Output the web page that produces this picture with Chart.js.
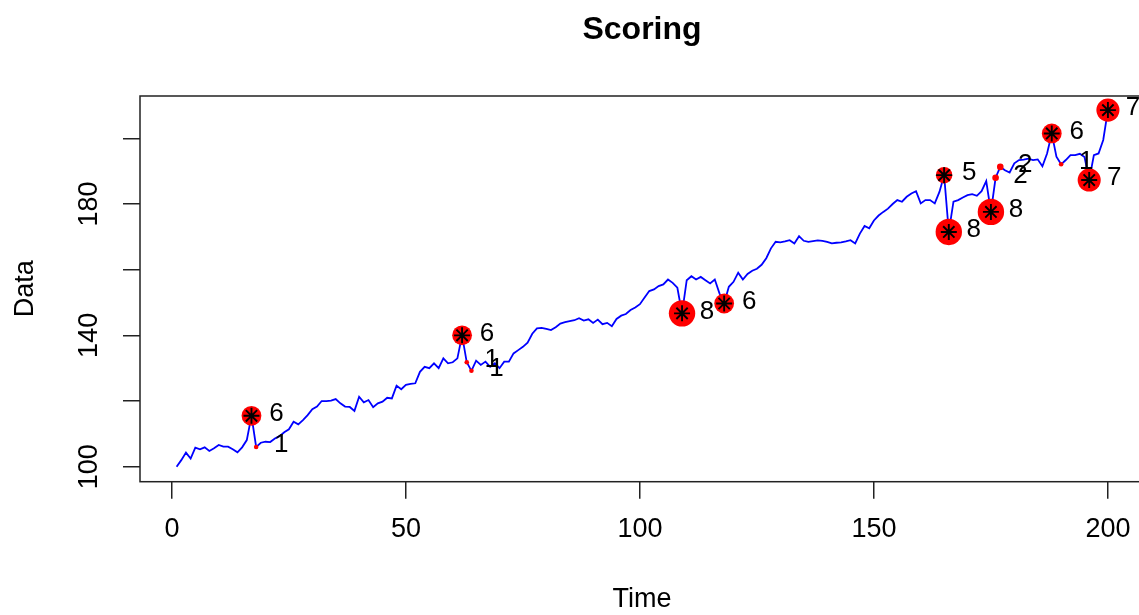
<!DOCTYPE html>
<html>
<head>
<meta charset="utf-8">
<title>Scoring</title>
<script src="https://cdn.jsdelivr.net/npm/chart.js@4/dist/chart.umd.min.js"></script>
<style>
  html, body { margin: 0; padding: 0; background: #fff; overflow: hidden; }
  #chart { display: block; }
</style>
</head>
<body>
<canvas id="chart" width="1139" height="615"></canvas>
<script>
// === Data ===
const values = [
  100.0, 102.0, 104.3, 102.5, 105.8, 105.3, 105.9, 104.8, 105.6, 106.6,
  106.1, 106.1, 105.3, 104.4, 105.9, 108.1, 115.5, 106.0, 107.3, 107.6,
  107.5, 108.6, 109.3, 110.5, 111.4, 113.7, 112.9, 114.2, 115.7, 117.5,
  118.3, 120.0, 120.0, 120.1, 120.6, 119.3, 118.3, 118.2, 117.0, 121.3,
  119.6, 120.3, 118.1, 119.3, 119.8, 121.0, 120.8, 124.7, 123.6, 124.9,
  125.2, 125.4, 128.9, 130.4, 130.0, 131.5, 130.0, 133.0, 131.5, 131.8,
  133.0, 140.0, 131.8, 129.2, 132.3, 131.0, 132.0, 130.4, 131.5, 130.0,
  132.0, 132.0, 134.5, 135.5, 136.5, 137.8, 140.5, 142.1, 142.3, 142.0,
  141.6, 142.5, 143.6, 144.0, 144.3, 144.6, 145.2, 144.5, 144.9, 143.8,
  144.8, 143.4, 143.8, 142.8, 145.0, 146.0, 146.5, 147.7, 148.5, 149.5,
  151.5, 153.5, 154.0, 155.0, 155.5, 157.0, 156.0, 154.5, 146.7, 156.8,
  158.0, 157.0, 157.8, 156.8, 155.8, 157.0, 152.8, 149.7, 154.8, 156.3,
  159.1, 157.0, 158.7, 159.7, 160.3, 161.5, 163.5, 166.5, 168.5, 168.3,
  168.6, 169.0, 168.0, 170.2, 168.8, 168.5, 168.7, 168.9, 168.8, 168.5,
  168.0, 168.2, 168.3, 168.6, 169.0, 168.0, 171.0, 173.3, 172.6, 175.0,
  176.5, 177.6, 178.6, 180.0, 181.2, 180.7, 182.2, 183.2, 183.9, 180.2,
  181.2, 181.2, 180.2, 183.7, 188.8, 171.5, 180.7, 181.2, 182.0, 182.7,
  183.0, 182.5, 183.9, 187.0, 177.6, 188.0, 191.3, 190.3, 189.6, 192.4,
  193.4, 193.5, 193.8, 193.4, 193.6, 191.5, 195.4, 201.5, 194.4, 192.1,
  193.4, 194.9, 194.9, 195.3, 194.3, 187.3, 194.9, 195.4, 199.5, 208.6
];
const anomalyTimes  = [17, 18, 62, 63, 64, 109, 118, 165, 166, 175, 176, 177, 188, 190, 196, 200];
const anomalyScores = [ 6,  1,  6,  1,  1,   8,   6,   5,   8,   8,   2,   2,   6,   1,   7,   7];
const xTicks = [0, 50, 100, 150, 200];
const yTicks = [100, 120, 140, 160, 180, 200];
const yTickLabels = ['100', '', '140', '', '180', ''];

// === Style ===
const FONT = "'Liberation Sans', Arial, sans-serif";
const INK = '#000000';
const STAR_MIN_SCORE = 5;
const X_MIN = -6.82;          // R pads the range by 4%
const X_PX_PER_UNIT = 4.68;   // keeps the right edge of the box just off the page

// === Build datasets ===
const linePoints = values.map((v, i) => ({ x: i + 1, y: v }));
const anomalyPoints = anomalyTimes.map(t => ({ x: t, y: values[t - 1] }));
const starPoints = anomalyPoints.filter((p, i) => anomalyScores[i] >= STAR_MIN_SCORE);
const anomalyRadius = anomalyScores.map(s => Math.max(2.3, s * 1.65));

// box round the plot region, like base R
const boxPlugin = {
  id: 'box',
  afterDraw(chart) {
    const { ctx, chartArea: a } = chart;
    ctx.save();
    ctx.strokeStyle = '#222';
    ctx.lineWidth = 1.5;
    ctx.strokeRect(a.left, a.top, a.right - a.left + 40, a.bottom - a.top);
    ctx.restore();
  }
};

// score labels to the right of each anomaly, main title, x title
const textPlugin = {
  id: 'scoreText',
  afterDatasetsDraw(chart) {
    const { ctx } = chart;
    const meta = chart.getDatasetMeta(1);
    ctx.save();
    ctx.fillStyle = INK;
    ctx.font = `26px ${FONT}`;
    ctx.textAlign = 'center';
    ctx.textBaseline = 'middle';
    meta.data.forEach((pt, i) => {
      ctx.fillText(String(anomalyScores[i]), pt.x + 25, pt.y - 2);
    });
    ctx.font = `27px ${FONT}`;
    ctx.fillText('Time', 642, 600);
    ctx.font = `bold 32px ${FONT}`;
    ctx.fillText('Scoring', 642, 30);
    ctx.restore();
  }
};

const axisGrid = { drawOnChartArea: false, drawTicks: true, tickLength: 17, color: '#222', lineWidth: 1.5 };

const chart = new Chart(document.getElementById('chart'), {
  type: 'line',
  data: {
    datasets: [
      { data: linePoints, borderColor: '#0000ff', borderWidth: 1.8, pointRadius: 0, tension: 0, fill: false, order: 3 },
      { type: 'scatter', data: anomalyPoints, backgroundColor: '#ff0000', borderWidth: 0,
        pointRadius: anomalyRadius, order: 2 },
      { type: 'scatter', data: starPoints, pointStyle: 'star', pointRadius: 8,
        borderColor: '#000000', backgroundColor: '#000000', borderWidth: 1.9, order: 1 }
    ]
  },
  options: {
    responsive: false,
    animation: false,
    events: [],
    layout: { padding: { top: 96, left: 0, right: 0, bottom: 0 } },
    plugins: { legend: { display: false }, tooltip: { enabled: false }, title: { display: false } },
    scales: {
      x: {
        type: 'linear', min: X_MIN, max: 206.6,
        afterBuildTicks: s => { s.ticks = xTicks.map(v => ({ value: v })); },
        // labels must not push the side margins around
        afterFit: s => { s.height = 615 - 481.7; s.paddingLeft = 0; s.paddingRight = 0; },
        ticks: { autoSkip: false, maxRotation: 0, padding: 15, color: INK, font: { family: FONT, size: 27 } },
        grid: axisGrid,
        border: { display: false },
        title: { display: false }
      },
      y: {
        type: 'linear', min: 95.43, max: 212.9,
        afterBuildTicks: s => { s.ticks = yTicks.map(v => ({ value: v })); },
        afterFit: s => { s.width = 140; s.paddingTop = 0; s.paddingBottom = 0; },
        ticks: { autoSkip: false, minRotation: 90, maxRotation: 90, crossAlign: 'center', padding: 11,
          color: INK, font: { family: FONT, size: 27 }, callback: (v, i) => yTickLabels[i] },
        grid: axisGrid,
        border: { display: false },
        title: { display: true, text: 'Data', color: INK, font: { family: FONT, size: 27 }, padding: { top: 9, bottom: 0 } }
      }
    }
  },
  plugins: [boxPlugin, textPlugin]
});

// fit the x range to the plot width that the layout actually gave
for (let pass = 0; pass < 3; pass++) {
  const area = chart.chartArea;
  const max = X_MIN + (area.right - area.left) / X_PX_PER_UNIT;
  if (Math.abs(max - chart.options.scales.x.max) < 0.01) break;
  chart.options.scales.x.max = max;
  chart.update();
}
</script>
</body>
</html>
